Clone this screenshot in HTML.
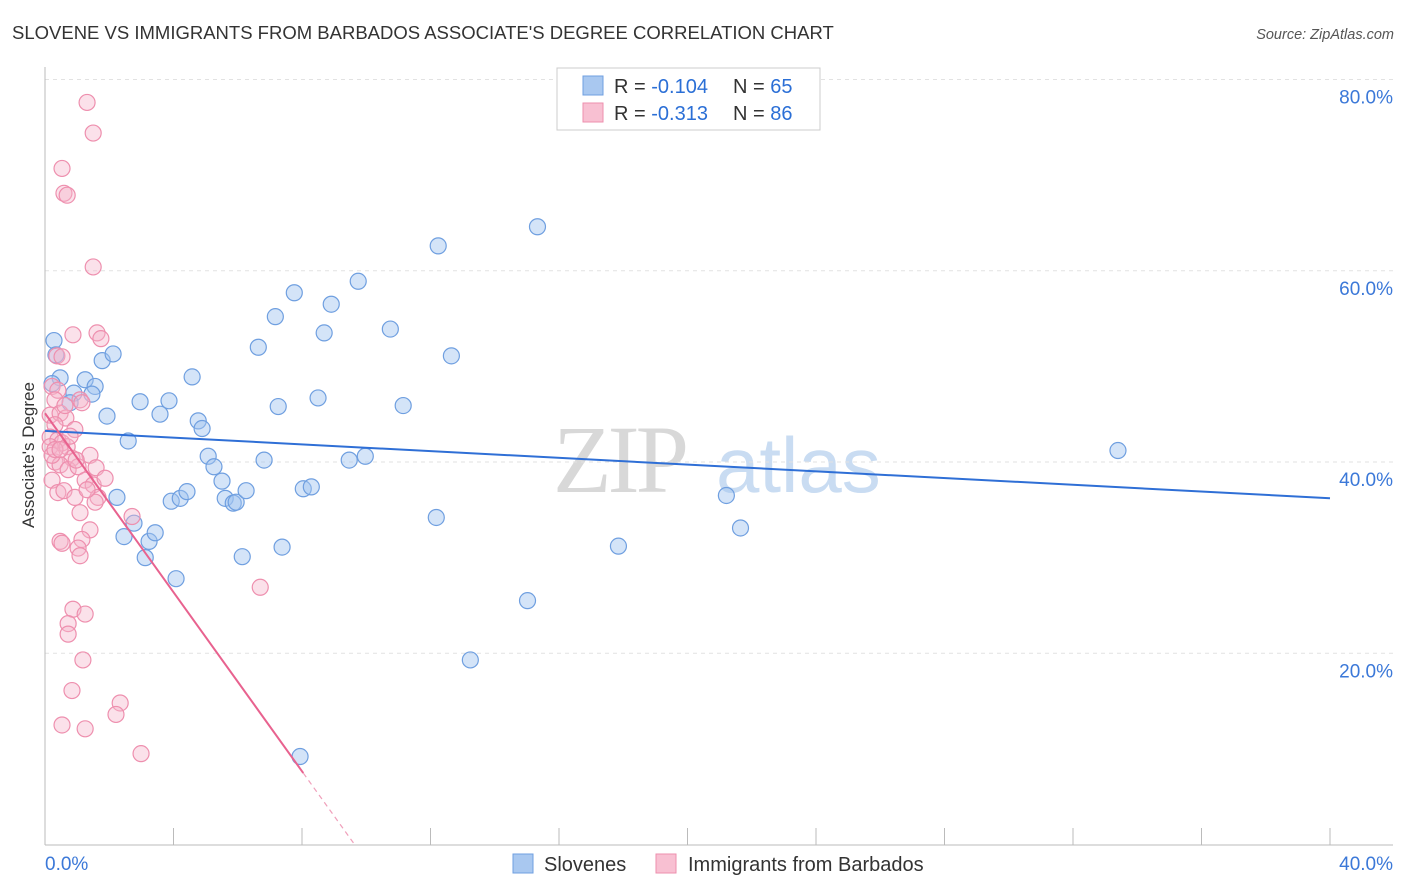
<!DOCTYPE html>
<html><head><meta charset="utf-8"><style>
body{margin:0;background:#fff;font-family:"Liberation Sans",sans-serif;}
svg{display:block}
</style></head><body>
<svg id="chart" width="1406" height="892">
<text x="12" y="39" font-size="18.5" fill="#333">SLOVENE VS IMMIGRANTS FROM BARBADOS ASSOCIATE'S DEGREE CORRELATION CHART</text>
<text x="1394" y="39" font-size="14.5" fill="#555" font-style="italic" text-anchor="end">Source: ZipAtlas.com</text>
<g>
<text x="553" y="492" font-size="96" font-family="Liberation Serif" fill="#d8d8d8" letter-spacing="-4">ZIP</text>
<text x="716" y="492" font-size="78" fill="#c9dcf2">atlas</text>
</g>
<g id="grid"></g>
<g id="axes"></g>
<g id="pts"></g>
<g id="trend"></g>
<text transform="translate(34,455) rotate(-90)" font-size="17" fill="#333" text-anchor="middle">Associate's Degree</text>
<g>
<rect x="557" y="68" width="263" height="62" fill="#fff" stroke="#ccc"/>
<rect x="583" y="76" width="20" height="19" fill="#a9c8f0" stroke="#6f9fe0"/>
<rect x="583" y="103" width="20" height="19" fill="#f8c0d2" stroke="#ee8fae"/>
<text x="614" y="93" font-size="20" fill="#333">R = <tspan fill="#2b6fd6">-0.104</tspan><tspan x="733">N = </tspan><tspan fill="#2b6fd6">65</tspan></text>
<text x="614" y="120" font-size="20" fill="#333">R = <tspan fill="#2b6fd6"> -0.313</tspan><tspan x="733">N = </tspan><tspan fill="#2b6fd6">86</tspan></text>
</g>
<g>
<rect x="513" y="854" width="20" height="19" fill="#a9c8f0" stroke="#6f9fe0"/>
<text x="544" y="871" font-size="20" fill="#333">Slovenes</text>
<rect x="656" y="854" width="20" height="19" fill="#f8c0d2" stroke="#ee8fae"/>
<text x="688" y="871" font-size="20" fill="#333">Immigrants from Barbados</text>
</g>
</svg>
<script>
const yTicks=[20,40,60,80];
const yTickLabels=["20.0%","40.0%","60.0%","80.0%"];
const xTicks=[0,4,8,12,16,20,24,28,32,36,40];
const xEndLabels=["0.0%","40.0%"];
const blueX=[0.28,0.34,0.47,0.22,1.25,1.56,0.9,1.46,0.78,1.93,1.78,2.12,2.59,2.24,2.46,2.77,3.12,3.24,3.43,2.96,3.58,3.86,3.93,4.21,4.42,4.08,4.58,4.77,4.89,5.08,5.26,5.51,5.61,5.86,5.95,6.26,6.14,6.64,6.82,7.17,7.26,7.38,7.76,8.04,8.29,8.5,8.69,8.91,9.47,9.75,9.97,10.75,11.15,12.18,12.24,12.65,13.24,15.02,15.33,17.85,21.21,21.65,33.4,7.94];
const blueY=[52.7,51.2,48.8,48.2,48.6,47.9,47.2,47.1,46.2,44.8,50.6,51.3,42.2,36.3,32.2,33.6,30.0,31.7,32.6,46.3,45.0,46.4,35.9,36.2,36.9,27.8,48.9,44.3,43.5,40.6,39.5,38.0,36.2,35.7,35.8,37.0,30.1,52.0,40.2,55.2,45.8,31.1,57.7,37.2,37.4,46.7,53.5,56.5,40.2,58.9,40.6,53.9,45.9,34.2,62.6,51.1,19.3,25.5,64.6,31.2,36.5,33.1,41.2,9.2];
const pinkX=[1.31,1.5,0.53,0.59,0.69,1.5,0.87,1.62,1.74,0.37,0.53,0.22,0.4,0.31,1.09,1.15,0.16,0.47,0.65,0.31,0.93,0.16,0.4,0.53,0.69,0.84,0.31,0.47,0.72,1.03,1.4,1.59,1.25,1.5,1.87,0.22,0.4,0.59,0.93,1.65,1.56,1.09,2.71,1.4,1.15,0.47,0.53,1.03,1.09,0.87,1.25,0.72,0.72,1.18,0.84,0.53,1.25,2.34,2.21,2.99,6.7,0.16,0.22,0.31,0.62,0.78,0.47,1.31,0.97];
const pinkY=[77.6,74.4,70.7,68.1,67.9,60.4,53.3,53.5,52.9,51.1,51.0,47.9,47.5,46.5,46.5,46.2,44.9,45.1,44.6,43.9,43.4,42.6,42.3,42.0,41.6,40.4,40.0,39.7,39.2,39.5,40.7,39.4,38.1,37.6,38.3,38.1,36.8,37.0,36.3,36.3,35.8,34.7,34.3,32.9,31.9,31.7,31.5,31.0,30.2,24.6,24.1,23.1,22.0,19.3,16.1,12.5,12.1,14.8,13.6,9.5,26.9,41.6,40.7,41.3,45.9,42.7,41.3,37.1,40.2];
const blueTrend=[43.25,-0.176];
const pinkTrend=[45.1,-4.68];
const pinkSolidEnd=8.04;

const X=v=>45+v*32.125;
const Y=v=>844.5-v*9.5625;
const NS="http://www.w3.org/2000/svg";
function mk(tag,attrs,parent){const e=document.createElementNS(NS,tag);for(const k in attrs)e.setAttribute(k,attrs[k]);document.getElementById(parent).appendChild(e);return e;}

yTicks.forEach((t,i)=>{
 const l=mk('line',{x1:45,x2:1393,y1:Y(t),y2:Y(t),stroke:'#e2e2e2','stroke-dasharray':'4,4'},'grid');
 
 
 const tx=mk('text',{x:1393,y:Y(t)+24,'font-size':19,fill:'#3b78d8','text-anchor':'end'},'grid');
 tx.textContent=yTickLabels[i];
 
 
});
const ax=mk('line',{x1:45,x2:45,y1:67,y2:845,stroke:'#bbb'},'axes');


const bx=mk('line',{x1:45,x2:1393,y1:845,y2:845,stroke:'#bbb'},'axes');


xTicks.forEach(t=>{
 const l=mk('line',{x1:X(t),x2:X(t),y1:828,y2:845,stroke:'#bbb'},'axes');
 
 
});
const xl0=mk('text',{x:45,y:870,'font-size':19,fill:'#3b78d8'},'axes');
xl0.textContent=xEndLabels[0];


const xl1=mk('text',{x:1393,y:870,'font-size':19,fill:'#3b78d8','text-anchor':'end'},'axes');
xl1.textContent=xEndLabels[1];



blueX.forEach((x,i)=>{
 const c=mk('circle',{cx:X(x),cy:Y(blueY[i]),r:8,fill:'rgba(160,195,240,0.45)',stroke:'#6f9fe0','stroke-width':1.2},'pts');
 
 
});
pinkX.forEach((x,i)=>{
 const c=mk('circle',{cx:X(x),cy:Y(pinkY[i]),r:8,fill:'rgba(245,180,202,0.4)',stroke:'#ee8fae','stroke-width':1.2},'pts');
 
 
});
const bt=mk('line',{x1:X(0),y1:Y(blueTrend[0]),x2:X(40),y2:Y(blueTrend[0]+blueTrend[1]*40),stroke:'#2f6fd6','stroke-width':2},'trend');


const pt=mk('line',{x1:X(0),y1:Y(pinkTrend[0]),x2:X(pinkSolidEnd),y2:Y(pinkTrend[0]+pinkTrend[1]*pinkSolidEnd),stroke:'#e8628f','stroke-width':2},'trend');


const zeroX=-pinkTrend[0]/pinkTrend[1];
const pd=mk('line',{x1:X(pinkSolidEnd),y1:Y(pinkTrend[0]+pinkTrend[1]*pinkSolidEnd),x2:X(zeroX),y2:Y(0),stroke:'#f0a0bb','stroke-width':1.2,'stroke-dasharray':'5,4'},'trend');


</script>
</body></html>
